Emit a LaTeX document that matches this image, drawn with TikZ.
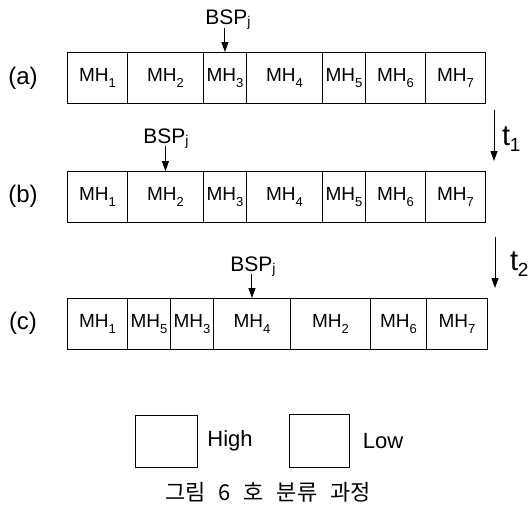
\documentclass[tikz,border=0pt]{standalone}
\usepackage{fontspec}
\setmainfont{Liberation Sans}
\newfontfamily\korfont{Noto Sans CJK KR}
\usetikzlibrary{arrows.meta}
\newcommand\mysub[1]{\raisebox{-0.3em}{\fontsize{13}{13}\selectfont #1}}
\newcommand\jsub{\raisebox{-0.12em}{\fontsize{14}{14}\selectfont j}}
\newcommand\tsub[1]{\kern-0.5pt\raisebox{-0.22em}{\fontsize{19}{19}\selectfont #1}}
\begin{document}
\begin{tikzpicture}[x=1pt,y=-1pt,
  cell/.style={draw, line width=0.9pt, inner sep=0pt, anchor=north west,
    minimum height=51pt, font=\fontsize{19}{19}\selectfont},
  lbl/.style={font=\fontsize{22}{22}\selectfont, inner sep=0pt},
  rowlbl/.style={font=\fontsize{24}{24}\selectfont, inner sep=0pt},
  bsp/.style={font=\fontsize{21}{21}\selectfont, inner sep=0pt, anchor=base},
  tlbl/.style={inner sep=0pt, anchor=base west, font=\fontsize{29}{29}\selectfont},
  arr/.style={-{Triangle[length=10pt,width=7pt]}, line width=1pt},
  legbox/.style={draw, line width=0.9pt, inner sep=0pt}]
\useasboundingbox (0,0) rectangle (529,504);

% row (a)
\foreach \i/\xa/\xb/\m in {1/67/127/1, 2/127/203/2, 3/203/246/3, 4/246/322/4, 5/322/365/5, 6/365/425/6, 7/425/485/7}
  \node[cell, minimum width=\xb-\xa] (a\i) at (\xa,52) {MH\mysub{\m}};
% row (b)
\foreach \i/\xa/\xb/\m in {1/67/127/1, 2/127/203/2, 3/203/246/3, 4/246/322/4, 5/322/365/5, 6/365/425/6, 7/425/485/7}
  \node[cell, minimum width=\xb-\xa] (b\i) at (\xa,171) {MH\mysub{\m}};
% row (c)
\foreach \i/\xa/\xb/\m in {1/67/127/1, 2/127/170/5, 3/170/213/3, 4/213/290/4, 5/290/370/2, 6/370/426/6, 7/426/487/7}
  \node[cell, minimum width=\xb-\xa] (c\i) at (\xa,298) {MH\mysub{\m}};

% row labels
\node[rowlbl] (la) at (23,78) {(a)};
\node[rowlbl] (lb) at (23,196) {(b)};
\node[rowlbl] (lc) at (23,323) {(c)};

% BSP pointers
\node[bsp] (bspa) at (228,24) {BSP\jsub};
\draw[arr] (a3.north |- 0,28) -- (a3.north);
\node[bsp] (bspb) at (166,143) {BSP\jsub};
\draw[arr] (b2.north |- 0,146) -- (b2.north);
\node[bsp] (bspc) at (253,271) {BSP\jsub};
\draw[arr] (c4.north |- 0,274) -- (c4.north);

% time arrows
\coordinate (t1s) at (494,110);
\coordinate (t1e) at (494,161);
\draw[arr] (t1s) -- (t1e);
\node[tlbl] (t1) at (502,145) {t\tsub{1}};
\coordinate (t2s) at (495,237);
\coordinate (t2e) at (495,288);
\draw[arr] (t2s) -- (t2e);
\node[tlbl] (t2) at (510,270) {t\tsub{2}};

% legend
\node[legbox, minimum width=62pt, minimum height=52pt] (hi) at (166,441) {};
\node[lbl] (hit) at (230,441) {High};
\node[legbox, minimum width=60pt, minimum height=53pt] (lo) at (319,441) {};
\node[lbl] (lot) at (383,441) {Low};

% caption
\node[inner sep=0pt, font=\korfont\fontsize{22}{22}\selectfont] (cap) at (268,492)
  {그림\hspace{13pt}6\hspace{13pt}호\hspace{13pt}분류\hspace{13pt}과정};
\end{tikzpicture}
\end{document}
